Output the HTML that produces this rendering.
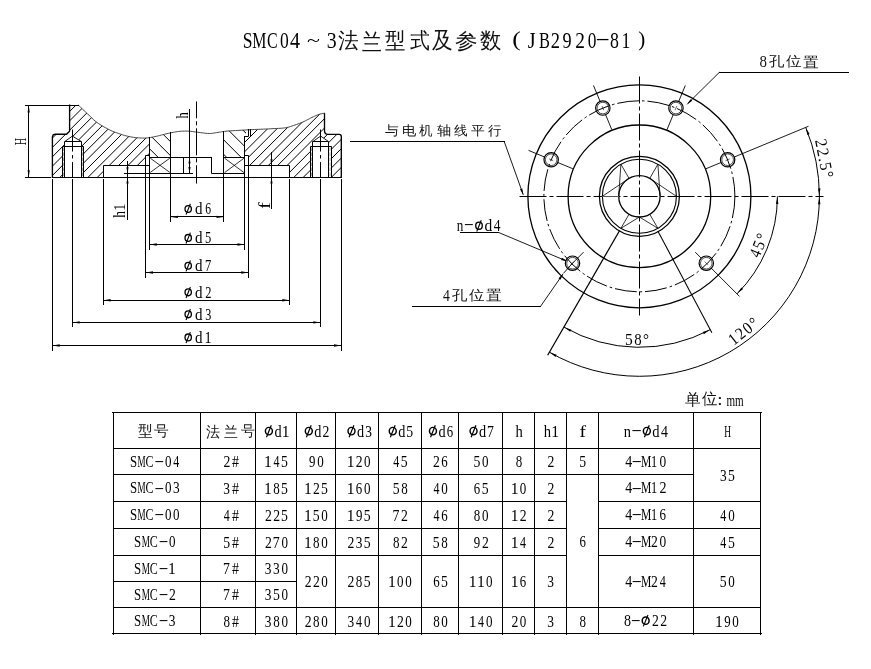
<!DOCTYPE html>
<html><head><meta charset="utf-8"><title>SMC04~3 flange</title>
<style>html,body{margin:0;padding:0;background:#fff;}svg{display:block;filter:grayscale(1);}text{font-family:"Liberation Serif",serif;}</style>
</head><body>
<svg width="871" height="669" viewBox="0 0 871 669" font-family="Liberation Serif, serif" text-anchor="middle">
<rect width="871" height="669" fill="#fff"/>
<defs>
<clipPath id="cl1" clip-rule="evenodd"><path clip-rule="evenodd" d="M52.4,177.4 52.4,136.8 55.2,134.2 66.5,134.2 69.6,131.3 69.6,105.2 78.4,105.2 79.39,106.14 80.75,107.43 82.36,108.96 84.11,110.61 85.86,112.27 87.5,113.8 89.02,115.25 90.5,116.71 92,118.18 93.54,119.63 95.16,121.04 96.9,122.4 98.82,123.73 100.9,125.06 103.06,126.36 105.22,127.58 107.3,128.71 109.2,129.7 110.91,130.54 112.5,131.23 114,131.83 115.46,132.37 116.91,132.88 118.4,133.4 119.92,133.93 121.44,134.45 122.95,134.94 124.46,135.4 125.98,135.82 127.5,136.2 129.03,136.54 130.56,136.84 132.09,137.11 133.63,137.34 135.17,137.53 136.7,137.7 138.23,137.84 139.77,137.95 141.3,138.03 142.83,138.07 144.37,138.06 145.9,138 147.43,137.88 148.97,137.69 149.5,137.61 149.5,155.4 145.7,155.4 145.7,165.4 103.4,165.4 103.4,177.4Z M62.6,177.4 62.6,146.5 64.5,146.5 64.5,141.4 72.4,136 81.3,141.4 81.3,146.5 83.5,146.5 83.5,177.4Z"/></clipPath>
<clipPath id="cl2" clip-rule="evenodd"><path clip-rule="evenodd" d="M244.8,155.6 244.8,136.5 248.5,136.5 248.5,129.8 248.64,129.79 250.4,129.7 252.28,129.61 254.24,129.53 256.22,129.44 258.21,129.36 260.15,129.28 262,129.2 263.72,129.12 265.33,129.05 266.89,128.97 268.47,128.9 270.16,128.81 272,128.7 274.08,128.6 276.36,128.5 278.73,128.39 281.09,128.26 283.35,128.06 285.4,127.8 287.23,127.45 288.9,127.03 290.47,126.56 291.99,126.06 293.48,125.53 295,125 296.55,124.46 298.08,123.91 299.6,123.33 301.1,122.74 302.56,122.13 304,121.5 305.4,120.84 306.78,120.14 308.12,119.42 309.44,118.71 310.74,118.03 312,117.4 313.24,116.82 314.46,116.25 315.66,115.72 316.81,115.23 317.93,114.78 319,114.4 320.07,114.08 321.15,113.82 322.19,113.61 323.13,113.44 323.92,113.31 324.5,113.2 324.5,130.7 326.2,133.8 328,134.4 339.3,134.4 341.3,136.4 341.3,177.4 289.6,177.4 289.6,165.4 248.5,165.4 248.5,155.6Z M310.4,177.4 310.4,146.5 312.8,146.5 312.8,141.4 320.6,136 328.5,141.4 328.5,146.5 331.2,146.5 331.2,177.4Z"/></clipPath>
<clipPath id="cl3"><path d="M149.5,137.61 150.5,137.46 152.03,137.2 153.57,136.91 155.1,136.6 156.65,136.26 158.22,135.88 159.79,135.47 161.34,135.06 162.85,134.66 164.3,134.3 165.67,133.98 166.97,133.67 168.23,133.39 169.47,133.11 170.6,132.88 170.6,157.4 149.5,157.4Z"/></clipPath>
<clipPath id="cl4"><path d="M223.8,131.46 224.33,131.38 226,131.2 228.03,131.03 230.36,130.87 232.85,130.71 235.38,130.57 237.81,130.43 240,130.3 241.93,130.18 243.69,130.07 245.35,129.98 246,129.94 246,136.5 244.8,136.5 244.8,157.4 223.8,157.4Z"/></clipPath>
</defs>
<path clip-path="url(#cl1)" d="M-47,200L63,90M-37.64,200L72.36,90M-28.28,200L81.72,90M-18.92,200L91.08,90M-9.56,200L100.44,90M-0.2,200L109.8,90M9.16,200L119.16,90M18.52,200L128.52,90M27.88,200L137.88,90M37.24,200L147.24,90M46.6,200L156.6,90M55.96,200L165.96,90M65.32,200L175.32,90M74.68,200L184.68,90M84.04,200L194.04,90M93.4,200L203.4,90M102.76,200L212.76,90M112.12,200L222.12,90M121.48,200L231.48,90M130.84,200L240.84,90M140.2,200L250.2,90M149.56,200L259.56,90M158.92,200L268.92,90" stroke="#000" stroke-width="1.0" fill="none"/>
<path clip-path="url(#cl2)" d="M140.2,200L250.2,90M149.56,200L259.56,90M158.92,200L268.92,90M168.28,200L278.28,90M177.64,200L287.64,90M187,200L297,90M196.36,200L306.36,90M205.72,200L315.72,90M215.08,200L325.08,90M224.44,200L334.44,90M233.8,200L343.8,90M243.16,200L353.16,90M252.52,200L362.52,90M261.88,200L371.88,90M271.24,200L381.24,90M280.6,200L390.6,90M289.96,200L399.96,90M299.32,200L409.32,90M308.68,200L418.68,90M318.04,200L428.04,90M327.4,200L437.4,90" stroke="#000" stroke-width="1.0" fill="none"/>
<path clip-path="url(#cl3)" d="M62.8,90L172.8,200M76.8,90L186.8,200M90.8,90L200.8,200M104.8,90L214.8,200M118.8,90L228.8,200M132.8,90L242.8,200M146.8,90L256.8,200" stroke="#000" stroke-width="1.0" fill="none"/>
<path clip-path="url(#cl4)" d="M130.3,90L240.3,200M144.8,90L254.8,200M159.3,90L269.3,200M173.8,90L283.8,200M188.3,90L298.3,200M202.8,90L312.8,200M217.3,90L327.3,200" stroke="#000" stroke-width="1.0" fill="none"/>
<polyline points="78.4,105.2 79.39,106.14 80.75,107.43 82.36,108.96 84.11,110.61 85.86,112.27 87.5,113.8 89.02,115.25 90.5,116.71 92,118.18 93.54,119.63 95.16,121.04 96.9,122.4 98.82,123.73 100.9,125.06 103.06,126.36 105.22,127.58 107.3,128.71 109.2,129.7 110.91,130.54 112.5,131.23 114,131.83 115.46,132.37 116.91,132.88 118.4,133.4 119.92,133.93 121.44,134.45 122.95,134.94 124.46,135.4 125.98,135.82 127.5,136.2 129.03,136.54 130.56,136.84 132.09,137.11 133.63,137.34 135.17,137.53 136.7,137.7 138.23,137.84 139.77,137.95 141.3,138.03 142.83,138.07 144.37,138.06 145.9,138 147.43,137.88 148.97,137.69 150.5,137.46 152.03,137.2 153.57,136.91 155.1,136.6 156.65,136.26 158.22,135.88 159.79,135.47 161.34,135.06 162.85,134.66 164.3,134.3 165.67,133.98 166.97,133.67 168.23,133.39 169.47,133.11 170.72,132.85 172,132.6 173.31,132.35 174.61,132.09 175.93,131.85 177.26,131.63 178.61,131.44 180,131.3 181.42,131.2 182.86,131.13 184.32,131.09 185.81,131.09 187.34,131.13 188.9,131.2 190.51,131.33 192.17,131.51 193.87,131.72 195.58,131.96 197.3,132.19 199,132.4 200.71,132.61 202.44,132.86 204.18,133.09 205.9,133.3 207.58,133.45 209.2,133.5 210.76,133.45 212.27,133.3 213.74,133.09 215.18,132.86 216.6,132.61 218,132.4 219.31,132.2 220.5,132 221.68,131.79 222.92,131.58 224.33,131.38 226,131.2 228.03,131.03 230.36,130.87 232.85,130.71 235.38,130.57 237.81,130.43 240,130.3 241.93,130.18 243.69,130.07 245.35,129.98 246.98,129.88 248.64,129.79 250.4,129.7 252.28,129.61 254.24,129.53 256.22,129.44 258.21,129.36 260.15,129.28 262,129.2 263.72,129.12 265.33,129.05 266.89,128.97 268.47,128.9 270.16,128.81 272,128.7 274.08,128.6 276.36,128.5 278.73,128.39 281.09,128.26 283.35,128.06 285.4,127.8 287.23,127.45 288.9,127.03 290.47,126.56 291.99,126.06 293.48,125.53 295,125 296.55,124.46 298.08,123.91 299.6,123.33 301.1,122.74 302.56,122.13 304,121.5 305.4,120.84 306.78,120.14 308.12,119.42 309.44,118.71 310.74,118.03 312,117.4 313.24,116.82 314.46,116.25 315.66,115.72 316.81,115.23 317.93,114.78 319,114.4 320.07,114.08 321.15,113.82 322.19,113.61 323.13,113.44 323.92,113.31 324.5,113.2" fill="none" stroke="#333" stroke-width="0.9" stroke-linecap="square"/>
<polyline points="52.4,177.4 52.4,136.8 53.2,134.9 55.2,134.2 66.5,134.2 69.6,131.3 69.6,105.2" fill="none" stroke="#000" stroke-width="1.35" stroke-linecap="square"/>
<line x1="25.5" y1="105.5" x2="78.5" y2="105.5" stroke="#000" stroke-width="1.0" stroke-linecap="square"/>
<line x1="25.5" y1="177.5" x2="50.5" y2="177.5" stroke="#000" stroke-width="1.0" stroke-linecap="square"/>
<line x1="52.5" y1="177.5" x2="341.5" y2="177.5" stroke="#000" stroke-width="1.0" stroke-linecap="square"/>
<polyline points="62.5,177.5 62.5,146.5 83.5,146.5 83.5,177.5" fill="none" stroke="#000" stroke-width="1.0" stroke-linecap="square"/>
<polyline points="64.5,177.5 64.5,141.5 81.5,141.5 81.5,177.5" fill="none" stroke="#000" stroke-width="1.0" stroke-linecap="square"/>
<polyline points="65.4,141.1 72.4,136.1 80.6,141.1" fill="none" stroke="#000" stroke-width="0.9" stroke-linecap="square"/>
<line x1="63.5" y1="147.5" x2="63.5" y2="177.4" stroke="#777" stroke-width="0.6" stroke-dasharray="3.5 1.5"/>
<line x1="82.5" y1="147.5" x2="82.5" y2="177.4" stroke="#777" stroke-width="0.6" stroke-dasharray="3.5 1.5"/>
<line x1="72.5" y1="129.5" x2="72.5" y2="177.5" stroke="#000" stroke-width="1.0" stroke-dasharray="22 3.6 3.4 3.6"/>
<polyline points="310.5,177.5 310.5,146.5 331.5,146.5 331.5,177.5" fill="none" stroke="#000" stroke-width="1.0" stroke-linecap="square"/>
<polyline points="312.5,177.5 312.5,141.5 328.5,141.5 328.5,177.5" fill="none" stroke="#000" stroke-width="1.0" stroke-linecap="square"/>
<polyline points="313.5,141.1 320.6,136.1 327.9,141.1" fill="none" stroke="#000" stroke-width="0.9" stroke-linecap="square"/>
<line x1="311.5" y1="147.5" x2="311.5" y2="177.4" stroke="#777" stroke-width="0.6" stroke-dasharray="3.5 1.5"/>
<line x1="330" y1="147.5" x2="330" y2="177.4" stroke="#777" stroke-width="0.6" stroke-dasharray="3.5 1.5"/>
<line x1="320.5" y1="129.5" x2="320.5" y2="177.5" stroke="#000" stroke-width="1.0" stroke-dasharray="22 3.6 3.4 3.6"/>
<line x1="149.5" y1="137.5" x2="149.5" y2="177.5" stroke="#000" stroke-width="1.0" stroke-linecap="square"/>
<polyline points="149.5,155.5 145.5,155.5 145.5,165.5" fill="none" stroke="#000" stroke-width="1.0" stroke-linecap="square"/>
<polyline points="103.5,177.5 103.5,165.5 149.5,165.5" fill="none" stroke="#000" stroke-width="1.0" stroke-linecap="square"/>
<line x1="145.5" y1="165.5" x2="145.5" y2="177.5" stroke="#000" stroke-width="1.0" stroke-linecap="square"/>
<line x1="170.5" y1="132.5" x2="170.5" y2="177.5" stroke="#000" stroke-width="1.0" stroke-linecap="square"/>
<line x1="149.5" y1="157.5" x2="211.5" y2="157.5" stroke="#000" stroke-width="1.0" stroke-linecap="square"/>
<line x1="223.5" y1="157.5" x2="244.5" y2="157.5" stroke="#000" stroke-width="1.0" stroke-linecap="square"/>
<line x1="183.5" y1="157.5" x2="183.5" y2="173.5" stroke="#000" stroke-width="1.0" stroke-linecap="square"/>
<polyline points="211.5,157.5 211.5,173.5 244.5,173.5" fill="none" stroke="#000" stroke-width="1.0" stroke-linecap="square"/>
<line x1="124.5" y1="173.5" x2="149.5" y2="173.5" stroke="#000" stroke-width="1.0" stroke-linecap="square"/>
<line x1="149.5" y1="173.5" x2="192.5" y2="173.5" stroke="#000" stroke-width="1.0" stroke-linecap="square"/>
<line x1="223.5" y1="131.5" x2="223.5" y2="177.5" stroke="#000" stroke-width="1.0" stroke-linecap="square"/>
<line x1="244.5" y1="136.5" x2="244.5" y2="177.5" stroke="#000" stroke-width="1.0" stroke-linecap="square"/>
<polyline points="244.5,136.5 248.5,136.5 248.5,129.5" fill="none" stroke="#000" stroke-width="1.0" stroke-linecap="square"/>
<line x1="250.5" y1="129.5" x2="250.5" y2="135.5" stroke="#000" stroke-width="1.0" stroke-linecap="square"/>
<polyline points="244.5,155.5 248.5,155.5 248.5,165.5" fill="none" stroke="#000" stroke-width="1.0" stroke-linecap="square"/>
<line x1="248.5" y1="165.5" x2="248.5" y2="177.5" stroke="#000" stroke-width="1.0" stroke-linecap="square"/>
<polyline points="244.5,165.5 289.5,165.5 289.5,177.5" fill="none" stroke="#000" stroke-width="1.0" stroke-linecap="square"/>
<path d="M324.5,113.2 V130.7 Q324.6,134.4 328,134.4 H339.3 Q341.3,134.4 341.3,136.6 V176.2 Q341.3,177.4 340.2,177.4" fill="none" stroke="#000" stroke-width="1.35"/>
<line x1="150.3" y1="158.2" x2="169.8" y2="172.4" stroke="#000" stroke-width="0.8"/>
<line x1="150.3" y1="172.4" x2="169.8" y2="158.2" stroke="#000" stroke-width="0.8"/>
<line x1="224.6" y1="158.2" x2="244" y2="172.6" stroke="#000" stroke-width="0.8"/>
<line x1="224.6" y1="172.6" x2="244" y2="158.2" stroke="#000" stroke-width="0.8"/>
<line x1="196.5" y1="101.5" x2="196.5" y2="183.5" stroke="#000" stroke-width="1.0" stroke-dasharray="27 3 4 3" stroke-dashoffset="10.2"/>
<line x1="189.5" y1="109.5" x2="189.5" y2="173.5" stroke="#000" stroke-width="1.0" stroke-linecap="square"/>
<polygon points="189.5,157.6 190.6,163.6 188.4,163.6" fill="#000"/>
<polygon points="189.5,173 188.4,167 190.6,167" fill="#000"/>
<line x1="127.5" y1="161.5" x2="127.5" y2="219.5" stroke="#000" stroke-width="1.0" stroke-linecap="square"/>
<polygon points="127.5,173.2 126.4,167.2 128.6,167.2" fill="#000"/>
<polygon points="127.5,177.6 128.6,183.6 126.4,183.6" fill="#000"/>
<line x1="271.5" y1="152.5" x2="271.5" y2="208.5" stroke="#000" stroke-width="1.0" stroke-linecap="square"/>
<polygon points="271.5,165.3 270.4,159.3 272.6,159.3" fill="#000"/>
<polygon points="271.5,177.6 272.6,183.6 270.4,183.6" fill="#000"/>
<line x1="28.5" y1="105.5" x2="28.5" y2="177.5" stroke="#000" stroke-width="1.0" stroke-linecap="square"/>
<polygon points="28.7,105.5 29.8,112.5 27.6,112.5" fill="#000"/>
<polygon points="28.7,177.3 27.6,170.3 29.8,170.3" fill="#000"/>
<line x1="170.5" y1="177.5" x2="170.5" y2="221.5" stroke="#000" stroke-width="1.0" stroke-linecap="square"/>
<line x1="223.5" y1="177.5" x2="223.5" y2="221.5" stroke="#000" stroke-width="1.0" stroke-linecap="square"/>
<line x1="170.5" y1="216.5" x2="223.5" y2="216.5" stroke="#000" stroke-width="1.0" stroke-linecap="square"/>
<polygon points="170.9,216.9 177.9,215.7 177.9,218.1" fill="#000"/>
<polygon points="223.5,216.9 216.5,218.1 216.5,215.7" fill="#000"/>
<line x1="149.5" y1="177.5" x2="149.5" y2="249.5" stroke="#000" stroke-width="1.0" stroke-linecap="square"/>
<line x1="244.5" y1="177.5" x2="244.5" y2="249.5" stroke="#000" stroke-width="1.0" stroke-linecap="square"/>
<line x1="149.5" y1="244.5" x2="244.5" y2="244.5" stroke="#000" stroke-width="1.0" stroke-linecap="square"/>
<polygon points="149.8,244.5 156.8,243.3 156.8,245.7" fill="#000"/>
<polygon points="244.5,244.5 237.5,245.7 237.5,243.3" fill="#000"/>
<line x1="145.5" y1="177.5" x2="145.5" y2="277.5" stroke="#000" stroke-width="1.0" stroke-linecap="square"/>
<line x1="248.5" y1="177.5" x2="248.5" y2="277.5" stroke="#000" stroke-width="1.0" stroke-linecap="square"/>
<line x1="145.5" y1="272.5" x2="248.5" y2="272.5" stroke="#000" stroke-width="1.0" stroke-linecap="square"/>
<polygon points="146,272.5 153,271.3 153,273.7" fill="#000"/>
<polygon points="248.2,272.5 241.2,273.7 241.2,271.3" fill="#000"/>
<line x1="103.5" y1="179.5" x2="103.5" y2="304.5" stroke="#000" stroke-width="1.0" stroke-linecap="square"/>
<line x1="289.5" y1="179.5" x2="289.5" y2="304.5" stroke="#000" stroke-width="1.0" stroke-linecap="square"/>
<line x1="103.5" y1="300.5" x2="289.5" y2="300.5" stroke="#000" stroke-width="1.0" stroke-linecap="square"/>
<polygon points="103.7,300.3 110.7,299.1 110.7,301.5" fill="#000"/>
<polygon points="289.3,300.3 282.3,301.5 282.3,299.1" fill="#000"/>
<line x1="72.5" y1="179.5" x2="72.5" y2="326.5" stroke="#000" stroke-width="1.0" stroke-linecap="square"/>
<line x1="320.5" y1="179.5" x2="320.5" y2="326.5" stroke="#000" stroke-width="1.0" stroke-linecap="square"/>
<line x1="72.5" y1="322.5" x2="320.5" y2="322.5" stroke="#000" stroke-width="1.0" stroke-linecap="square"/>
<polygon points="72.7,322.4 79.7,321.2 79.7,323.6" fill="#000"/>
<polygon points="320.3,322.4 313.3,323.6 313.3,321.2" fill="#000"/>
<line x1="52.5" y1="179.5" x2="52.5" y2="350.5" stroke="#000" stroke-width="1.0" stroke-linecap="square"/>
<line x1="341.5" y1="179.5" x2="341.5" y2="350.5" stroke="#000" stroke-width="1.0" stroke-linecap="square"/>
<line x1="52.5" y1="345.5" x2="341.5" y2="345.5" stroke="#000" stroke-width="1.0" stroke-linecap="square"/>
<polygon points="52.7,345.5 59.7,344.3 59.7,346.7" fill="#000"/>
<polygon points="341,345.5 334,346.7 334,344.3" fill="#000"/>
<line x1="350.5" y1="141.5" x2="504.5" y2="141.5" stroke="#000" stroke-width="1.0" stroke-linecap="square"/>
<line x1="504.1" y1="141.2" x2="523.2" y2="194.6" stroke="#000" stroke-width="0.9"/>
<polygon points="523.5,195.5 520.01,189.31 522.27,188.5" fill="#000"/>
<circle cx="639.4" cy="196.3" r="111.5" fill="none" stroke="#000" stroke-width="1.3"/>
<circle cx="639.4" cy="196.3" r="95.5" fill="none" stroke="#000" stroke-width="1.0" stroke-dasharray="22 3 2.5 3"/>
<circle cx="639.4" cy="196.3" r="71.3" fill="none" stroke="#000" stroke-width="1.3"/>
<circle cx="639.4" cy="196.3" r="40" fill="none" stroke="#000" stroke-width="1.25"/>
<circle cx="639.4" cy="196.3" r="37" fill="none" stroke="#000" stroke-width="1.1"/>
<circle cx="639.4" cy="196.3" r="20.7" fill="none" stroke="#000" stroke-width="1.3"/>
<line x1="519.5" y1="196.5" x2="823.5" y2="196.5" stroke="#000" stroke-width="1.0" stroke-dasharray="27 3 4 3"/>
<line x1="639.5" y1="76.5" x2="639.5" y2="315.5" stroke="#000" stroke-width="1.0" stroke-dasharray="27 3 4 3"/>
<line x1="657.9" y1="164.26" x2="649.75" y2="178.37" stroke="#000" stroke-width="0.8"/>
<line x1="657.9" y1="164.26" x2="660.1" y2="196.3" stroke="#000" stroke-width="0.8"/>
<line x1="676.4" y1="196.3" x2="649.75" y2="178.37" stroke="#000" stroke-width="0.8"/>
<line x1="657.9" y1="228.34" x2="649.75" y2="214.23" stroke="#000" stroke-width="0.8"/>
<line x1="657.9" y1="228.34" x2="639.4" y2="217" stroke="#000" stroke-width="0.8"/>
<line x1="620.9" y1="164.26" x2="629.05" y2="178.37" stroke="#000" stroke-width="0.8"/>
<line x1="620.9" y1="164.26" x2="618.7" y2="196.3" stroke="#000" stroke-width="0.8"/>
<line x1="602.4" y1="196.3" x2="629.05" y2="178.37" stroke="#000" stroke-width="0.8"/>
<line x1="620.9" y1="228.34" x2="629.05" y2="214.23" stroke="#000" stroke-width="0.8"/>
<line x1="620.9" y1="228.34" x2="639.4" y2="217" stroke="#000" stroke-width="0.8"/>
<line x1="602.5" y1="196.5" x2="618.5" y2="196.5" stroke="#555" stroke-width="1.0" stroke-linecap="square"/>
<circle cx="727.63" cy="159.75" r="7.2" fill="none" stroke="#000" stroke-width="1.2"/>
<circle cx="727.63" cy="159.75" r="5.8" fill="none" stroke="#000" stroke-width="0.7"/>
<line x1="725.6" y1="160.6" x2="729.66" y2="158.91" stroke="#000" stroke-width="0.6"/>
<circle cx="675.95" cy="108.07" r="7.2" fill="none" stroke="#000" stroke-width="1.2"/>
<circle cx="675.95" cy="108.07" r="5.8" fill="none" stroke="#000" stroke-width="0.7"/>
<line x1="675.1" y1="110.1" x2="676.79" y2="106.04" stroke="#000" stroke-width="0.6"/>
<circle cx="602.85" cy="108.07" r="7.2" fill="none" stroke="#000" stroke-width="1.2"/>
<circle cx="602.85" cy="108.07" r="5.8" fill="none" stroke="#000" stroke-width="0.7"/>
<line x1="603.7" y1="110.1" x2="602.01" y2="106.04" stroke="#000" stroke-width="0.6"/>
<circle cx="551.17" cy="159.75" r="7.2" fill="none" stroke="#000" stroke-width="1.2"/>
<circle cx="551.17" cy="159.75" r="5.8" fill="none" stroke="#000" stroke-width="0.7"/>
<line x1="553.2" y1="160.6" x2="549.14" y2="158.91" stroke="#000" stroke-width="0.6"/>
<circle cx="706.29" cy="263.19" r="7.2" fill="none" stroke="#000" stroke-width="1.2"/>
<circle cx="706.29" cy="263.19" r="5.8" fill="none" stroke="#000" stroke-width="0.7"/>
<line x1="704.74" y1="261.64" x2="707.85" y2="264.75" stroke="#000" stroke-width="0.6"/>
<circle cx="572.51" cy="263.19" r="7.2" fill="none" stroke="#000" stroke-width="1.2"/>
<circle cx="572.51" cy="263.19" r="5.8" fill="none" stroke="#000" stroke-width="0.7"/>
<line x1="574.06" y1="261.64" x2="570.95" y2="264.75" stroke="#000" stroke-width="0.6"/>
<line x1="666.95" y1="129.78" x2="673.15" y2="114.81" stroke="#000" stroke-width="0.9"/>
<line x1="678.74" y1="101.33" x2="685.32" y2="85.43" stroke="#000" stroke-width="0.9"/>
<line x1="611.85" y1="129.78" x2="605.65" y2="114.81" stroke="#000" stroke-width="0.9"/>
<line x1="600.06" y1="101.33" x2="593.48" y2="85.43" stroke="#000" stroke-width="0.9"/>
<line x1="572.88" y1="168.75" x2="557.91" y2="162.55" stroke="#000" stroke-width="0.9"/>
<line x1="544.43" y1="156.96" x2="528.53" y2="150.38" stroke="#000" stroke-width="0.9"/>
<line x1="705.92" y1="168.75" x2="720.89" y2="162.55" stroke="#000" stroke-width="0.9"/>
<line x1="734.37" y1="156.96" x2="808.47" y2="126.27" stroke="#000" stroke-width="0.9"/>
<line x1="695.26" y1="252.16" x2="701.2" y2="258.1" stroke="#000" stroke-width="0.9"/>
<line x1="711.38" y1="268.28" x2="739.53" y2="296.43" stroke="#000" stroke-width="0.9"/>
<line x1="583.54" y1="252.16" x2="572.51" y2="263.19" stroke="#000" stroke-width="0.9"/>
<line x1="572.51" y1="263.19" x2="563.5" y2="273.3" stroke="#000" stroke-width="0.9"/>
<line x1="657.94" y1="231.18" x2="711.89" y2="332.63" stroke="#000" stroke-width="1.05"/>
<line x1="619.65" y1="230.51" x2="547.65" y2="355.22" stroke="#000" stroke-width="1.25"/>
<path d="M805.7,127.42 A180,180 0 0 1 819.4,196.3" fill="none" stroke="#000" stroke-width="1.0"/>
<path d="M819.4,196.3 A180,180 0 0 1 549.4,352.18" fill="none" stroke="#000" stroke-width="1.0"/>
<path d="M777.4,196.3 A138,138 0 0 1 736.98,293.88" fill="none" stroke="#000" stroke-width="1.0"/>
<path d="M710.29,329.63 A151,151 0 0 1 563.9,327.07" fill="none" stroke="#000" stroke-width="1.0"/>
<polygon points="805.94,128 809.59,134.09 807.35,134.96" fill="#000"/>
<polygon points="819.4,195.36 818.03,188.39 820.42,188.33" fill="#000"/>
<polygon points="819.4,197.24 820.42,204.27 818.03,204.21" fill="#000"/>
<polygon points="549.94,352.5 556.66,354.81 555.51,356.91" fill="#000"/>
<polygon points="777.4,197.02 778.38,204.06 775.98,203.98" fill="#000"/>
<polygon points="737.49,293.37 741.41,287.45 743.16,289.09" fill="#000"/>
<polygon points="709.59,329.99 703.85,334.18 702.79,332.03" fill="#000"/>
<polygon points="564.59,327.46 571.32,329.73 570.17,331.85" fill="#000"/>
<line x1="719.5" y1="72.5" x2="848.5" y2="72.5" stroke="#000" stroke-width="1.0" stroke-linecap="square"/>
<line x1="719.4" y1="72.3" x2="688" y2="103.3" stroke="#000" stroke-width="0.9"/>
<polygon points="686.4,104.9 690.54,99.13 692.22,100.83" fill="#000"/>
<line x1="460.5" y1="232.5" x2="498.5" y2="232.5" stroke="#000" stroke-width="1.0" stroke-linecap="square"/>
<line x1="498.2" y1="232.3" x2="566" y2="260.8" stroke="#000" stroke-width="0.9"/>
<polygon points="568,261.6 561.08,260 562.01,257.78" fill="#000"/>
<line x1="412.5" y1="306.5" x2="540.5" y2="306.5" stroke="#000" stroke-width="1.0" stroke-linecap="square"/>
<line x1="540.6" y1="306.3" x2="563" y2="274" stroke="#000" stroke-width="0.9"/>
<polygon points="563.5,273.3 560.5,279.74 558.52,278.37" fill="#000"/>
<text transform="translate(247.66,48) scale(0.76,1)" font-size="23.08" fill="#000">S</text>
<text transform="translate(259.28,48) scale(0.69,1)" font-size="23.08" fill="#000">M</text>
<text transform="translate(272.23,48) scale(0.69,1)" font-size="23.08" fill="#000">C</text>
<text transform="translate(284.5,48) scale(0.76,1)" font-size="23.08" fill="#000">0</text>
<text transform="translate(295.1,48) scale(0.87,1)" font-size="23.08" fill="#000">4</text>
<text transform="translate(331.75,48) scale(0.86,1)" font-size="23.08" fill="#000">3</text>
<text transform="translate(531.65,48) scale(0.88,1)" font-size="23.08" fill="#000">J</text>
<text transform="translate(544.58,48) scale(0.71,1)" font-size="23.08" fill="#000">B</text>
<text transform="translate(555.48,48) scale(0.8,1)" font-size="23.08" fill="#000">2</text>
<text transform="translate(567.09,48) scale(0.79,1)" font-size="23.08" fill="#000">9</text>
<text transform="translate(580.1,48) scale(0.84,1)" font-size="23.08" fill="#000">2</text>
<text transform="translate(592.05,48) scale(0.75,1)" font-size="23.08" fill="#000">0</text>
<text transform="translate(614.45,48) scale(0.77,1)" font-size="23.08" fill="#000">8</text>
<text transform="translate(625.93,48) scale(0.77,1)" font-size="23.08" fill="#000">1</text>
<text transform="translate(313.45,46.35) scale(1.45,1)" font-size="16.47" fill="#000">~</text>
<text transform="translate(348.31,48.46) scale(0.94,1)" font-size="22.15" fill="#111" font-weight="300">法</text>
<text transform="translate(372.55,49.51) scale(0.86,1)" font-size="23.15" fill="#111" font-weight="300">兰</text>
<text transform="translate(395.81,48.44) scale(0.93,1)" font-size="22.39" fill="#111" font-weight="300">型</text>
<text transform="translate(420.1,48.27) scale(0.9,1)" font-size="21.91" fill="#111" font-weight="300">式</text>
<text transform="translate(442.52,48.35) scale(0.9,1)" font-size="23.15" fill="#111" font-weight="300">及</text>
<text transform="translate(466.69,47.54) scale(1.08,1)" font-size="21.02" fill="#111" font-weight="300">参</text>
<text transform="translate(490.37,47.8) scale(0.97,1)" font-size="22.15" fill="#111" font-weight="300">数</text>
<text transform="translate(516.47,46.21) scale(1.25,1)" font-size="20.44" fill="#000">(</text>
<text transform="translate(602.75,46.46) scale(0.87,1)" font-size="26" fill="#000">–</text>
<text transform="translate(641.86,45.83) scale(0.97,1)" font-size="21.78" fill="#000">)</text>
<ellipse cx="188.2" cy="209.01" rx="3.18" ry="3.41" fill="none" stroke="#000" stroke-width="1.32"/>
<line x1="190.38" y1="203.74" x2="186.02" y2="214.65" stroke="#000" stroke-width="1.09"/>
<text transform="translate(198.77,214.3) scale(0.94,1)" font-size="16" fill="#000">d</text>
<text transform="translate(208.24,214.3) scale(0.73,1)" font-size="16" fill="#000">6</text>
<ellipse cx="188.2" cy="237.91" rx="3.18" ry="3.41" fill="none" stroke="#000" stroke-width="1.32"/>
<line x1="190.38" y1="232.64" x2="186.02" y2="243.55" stroke="#000" stroke-width="1.09"/>
<text transform="translate(198.77,243.2) scale(0.94,1)" font-size="16" fill="#000">d</text>
<text transform="translate(208.18,243.2) scale(0.78,1)" font-size="16" fill="#000">5</text>
<ellipse cx="188.2" cy="265.71" rx="3.18" ry="3.41" fill="none" stroke="#000" stroke-width="1.32"/>
<line x1="190.38" y1="260.44" x2="186.02" y2="271.35" stroke="#000" stroke-width="1.09"/>
<text transform="translate(198.77,271) scale(0.94,1)" font-size="16" fill="#000">d</text>
<text transform="translate(208.05,271) scale(0.78,1)" font-size="16" fill="#000">7</text>
<ellipse cx="188.2" cy="292.31" rx="3.18" ry="3.41" fill="none" stroke="#000" stroke-width="1.32"/>
<line x1="190.38" y1="287.04" x2="186.02" y2="297.95" stroke="#000" stroke-width="1.09"/>
<text transform="translate(198.77,297.6) scale(0.94,1)" font-size="16" fill="#000">d</text>
<text transform="translate(208.43,297.6) scale(0.78,1)" font-size="16" fill="#000">2</text>
<ellipse cx="188.2" cy="314.31" rx="3.18" ry="3.41" fill="none" stroke="#000" stroke-width="1.32"/>
<line x1="190.38" y1="309.04" x2="186.02" y2="319.95" stroke="#000" stroke-width="1.09"/>
<text transform="translate(198.77,319.6) scale(0.94,1)" font-size="16" fill="#000">d</text>
<text transform="translate(208.24,319.6) scale(0.76,1)" font-size="16" fill="#000">3</text>
<ellipse cx="188.2" cy="337.41" rx="3.18" ry="3.41" fill="none" stroke="#000" stroke-width="1.32"/>
<line x1="190.38" y1="332.14" x2="186.02" y2="343.05" stroke="#000" stroke-width="1.09"/>
<text transform="translate(198.77,342.7) scale(0.94,1)" font-size="16" fill="#000">d</text>
<text transform="translate(208.09,342.7) scale(0.89,1)" font-size="16" fill="#000">1</text>
<g transform="translate(20.8,141.6) rotate(-90)">
<text transform="translate(0,5.53) scale(0.59,1)" font-size="17" fill="#000">H</text>
</g>
<g transform="translate(182.6,115.4) rotate(-90)">
<text transform="translate(0,5.2) scale(0.78,1)" font-size="16" fill="#000">h</text>
</g>
<g transform="translate(120,211) rotate(-90)">
<text transform="translate(-3.3,5.2) scale(0.85,1)" font-size="16" fill="#000">h</text>
<text transform="translate(3.84,5.2) scale(0.89,1)" font-size="16" fill="#000">1</text>
</g>
<g transform="translate(264.4,205.3) rotate(-90)">
<text transform="translate(-0.29,5.2) scale(1.21,1)" font-size="16" fill="#000">f</text>
</g>
<text transform="translate(392.34,134.82) scale(1.06,1)" font-size="13.4" fill="#111" font-weight="300">与</text>
<text transform="translate(408.95,134.96) scale(1.1,1)" font-size="13.4" fill="#111" font-weight="300">电</text>
<text transform="translate(426.57,134.96) scale(1.04,1)" font-size="13.4" fill="#111" font-weight="300">机</text>
<text transform="translate(444.07,134.82) scale(1.1,1)" font-size="13.4" fill="#111" font-weight="300">轴</text>
<text transform="translate(460.88,134.89) scale(1.05,1)" font-size="13.4" fill="#111" font-weight="300">线</text>
<text transform="translate(477.93,134.56) scale(1.06,1)" font-size="13.4" fill="#111" font-weight="300">平</text>
<text transform="translate(495.04,134.62) scale(1.04,1)" font-size="13.4" fill="#111" font-weight="300">行</text>
<text transform="translate(763.35,67.12) scale(0.88,1)" font-size="17" fill="#111">8</text>
<text transform="translate(776.34,66.12) scale(1.1,1)" font-size="13.5" fill="#111" font-weight="300">孔</text>
<text transform="translate(793.53,66.12) scale(1.11,1)" font-size="13.5" fill="#111" font-weight="300">位</text>
<text transform="translate(810.35,66.53) scale(1.13,1)" font-size="13.5" fill="#111" font-weight="300">置</text>
<text transform="translate(446.35,300.72) scale(0.81,1)" font-size="17" fill="#111">4</text>
<text transform="translate(459.27,299.72) scale(1.1,1)" font-size="13.5" fill="#111" font-weight="300">孔</text>
<text transform="translate(476.4,299.72) scale(1.11,1)" font-size="13.5" fill="#111" font-weight="300">位</text>
<text transform="translate(493.15,300.13) scale(1.13,1)" font-size="13.5" fill="#111" font-weight="300">置</text>
<text transform="translate(459.95,231.16) scale(0.8,1)" font-size="16.5" fill="#000">n</text>
<text transform="translate(468.92,230.2) scale(0.77,1)" font-size="20" fill="#000">–</text>
<ellipse cx="479" cy="225.71" rx="3.28" ry="3.52" fill="none" stroke="#000" stroke-width="1.36"/>
<line x1="481.25" y1="220.27" x2="476.75" y2="231.52" stroke="#000" stroke-width="1.12"/>
<text transform="translate(488.34,231.16) scale(0.94,1)" font-size="16.5" fill="#000">d</text>
<text transform="translate(497.1,231.16) scale(0.82,1)" font-size="16.5" fill="#000">4</text>
<text transform="translate(628.75,345.02) scale(0.91,1)" font-size="17" fill="#000">5</text>
<text transform="translate(637.9,345.02) scale(0.87,1)" font-size="17" fill="#000">8</text>
<text transform="translate(646.05,345.02) scale(0.88,1)" font-size="17" fill="#000">°</text>
<g transform="translate(824.2,158.3) rotate(79)">
<text transform="translate(-15.7,5.53) scale(0.91,1)" font-size="17" fill="#000">2</text>
<text transform="translate(-6.3,5.53) scale(0.91,1)" font-size="17" fill="#000">2</text>
<text transform="translate(0.85,5.53) scale(0.98,1)" font-size="17" fill="#000">.</text>
<text transform="translate(7.99,5.53) scale(0.91,1)" font-size="17" fill="#000">5</text>
<text transform="translate(16.7,5.53) scale(0.88,1)" font-size="17" fill="#000">°</text>
</g>
<g transform="translate(758.6,245.6) rotate(-67.5)">
<text transform="translate(-8.35,5.53) scale(0.79,1)" font-size="17" fill="#000">4</text>
<text transform="translate(0.7,5.53) scale(0.91,1)" font-size="17" fill="#000">5</text>
<text transform="translate(9.2,5.53) scale(0.88,1)" font-size="17" fill="#000">°</text>
</g>
<g transform="translate(743.6,331) rotate(-38)">
<text transform="translate(-13.16,5.53) scale(0.84,1)" font-size="17" fill="#000">1</text>
<text transform="translate(-4.19,5.53) scale(0.91,1)" font-size="17" fill="#000">2</text>
<text transform="translate(4.85,5.53) scale(0.87,1)" font-size="17" fill="#000">0</text>
<text transform="translate(13.2,5.53) scale(0.88,1)" font-size="17" fill="#000">°</text>
</g>
<text transform="translate(693.06,404.6) scale(0.98,1)" font-size="16" fill="#111" font-weight="300">单</text>
<text transform="translate(710.01,404.36) scale(0.96,1)" font-size="16" fill="#111" font-weight="300">位</text>
<text transform="translate(719.95,404.72) scale(1.13,1)" font-size="17" fill="#000">:</text>
<text transform="translate(730.9,405.52) scale(0.63,1)" font-size="17.6" fill="#000">m</text>
<text transform="translate(739.4,405.52) scale(0.63,1)" font-size="17.6" fill="#000">m</text>
<line x1="113.5" y1="412.5" x2="113.5" y2="634.5" stroke="#000" stroke-width="1.0" stroke-linecap="square"/>
<line x1="200.5" y1="412.5" x2="200.5" y2="634.5" stroke="#000" stroke-width="1.0" stroke-linecap="square"/>
<line x1="255.5" y1="412.5" x2="255.5" y2="634.5" stroke="#000" stroke-width="1.0" stroke-linecap="square"/>
<line x1="296.5" y1="412.5" x2="296.5" y2="634.5" stroke="#000" stroke-width="1.0" stroke-linecap="square"/>
<line x1="335.5" y1="412.5" x2="335.5" y2="634.5" stroke="#000" stroke-width="1.0" stroke-linecap="square"/>
<line x1="378.5" y1="412.5" x2="378.5" y2="634.5" stroke="#000" stroke-width="1.0" stroke-linecap="square"/>
<line x1="421.5" y1="412.5" x2="421.5" y2="634.5" stroke="#000" stroke-width="1.0" stroke-linecap="square"/>
<line x1="458.5" y1="412.5" x2="458.5" y2="634.5" stroke="#000" stroke-width="1.0" stroke-linecap="square"/>
<line x1="502.5" y1="412.5" x2="502.5" y2="634.5" stroke="#000" stroke-width="1.0" stroke-linecap="square"/>
<line x1="534.5" y1="412.5" x2="534.5" y2="634.5" stroke="#000" stroke-width="1.0" stroke-linecap="square"/>
<line x1="566.5" y1="412.5" x2="566.5" y2="634.5" stroke="#000" stroke-width="1.0" stroke-linecap="square"/>
<line x1="598.5" y1="412.5" x2="598.5" y2="634.5" stroke="#000" stroke-width="1.0" stroke-linecap="square"/>
<line x1="693.5" y1="412.5" x2="693.5" y2="634.5" stroke="#000" stroke-width="1.0" stroke-linecap="square"/>
<line x1="760.5" y1="412.5" x2="760.5" y2="634.5" stroke="#000" stroke-width="1.0" stroke-linecap="square"/>
<line x1="112.5" y1="412.5" x2="761.5" y2="412.5" stroke="#000" stroke-width="1.0" stroke-linecap="square"/>
<line x1="112.5" y1="633.5" x2="761.5" y2="633.5" stroke="#000" stroke-width="1.0" stroke-linecap="square"/>
<line x1="113.5" y1="448.5" x2="760.5" y2="448.5" stroke="#000" stroke-width="1.0" stroke-linecap="square"/>
<line x1="113.5" y1="474.5" x2="693.5" y2="474.5" stroke="#000" stroke-width="1.0" stroke-linecap="square"/>
<line x1="113.5" y1="501.5" x2="566.5" y2="501.5" stroke="#000" stroke-width="1.0" stroke-linecap="square"/>
<line x1="598.5" y1="501.5" x2="760.5" y2="501.5" stroke="#000" stroke-width="1.0" stroke-linecap="square"/>
<line x1="113.5" y1="528.5" x2="566.5" y2="528.5" stroke="#000" stroke-width="1.0" stroke-linecap="square"/>
<line x1="598.5" y1="528.5" x2="760.5" y2="528.5" stroke="#000" stroke-width="1.0" stroke-linecap="square"/>
<line x1="113.5" y1="555.5" x2="566.5" y2="555.5" stroke="#000" stroke-width="1.0" stroke-linecap="square"/>
<line x1="598.5" y1="555.5" x2="760.5" y2="555.5" stroke="#000" stroke-width="1.0" stroke-linecap="square"/>
<line x1="113.5" y1="581.5" x2="296.5" y2="581.5" stroke="#000" stroke-width="1.0" stroke-linecap="square"/>
<line x1="113.5" y1="607.5" x2="760.5" y2="607.5" stroke="#000" stroke-width="1.0" stroke-linecap="square"/>
<text transform="translate(145.44,436.48) scale(0.98,1)" font-size="14.8" fill="#111" font-weight="300">型</text>
<text transform="translate(161.34,436.11) scale(0.98,1)" font-size="14.8" fill="#111" font-weight="300">号</text>
<text transform="translate(213.24,436.55) scale(0.93,1)" font-size="14.8" fill="#111" font-weight="300">法</text>
<text transform="translate(230.54,437) scale(0.93,1)" font-size="14.8" fill="#111" font-weight="300">兰</text>
<text transform="translate(247.84,436.11) scale(0.93,1)" font-size="14.8" fill="#111" font-weight="300">号</text>
<ellipse cx="268.9" cy="431.1" rx="3.5" ry="3.75" fill="none" stroke="#000" stroke-width="1.45"/>
<line x1="271.3" y1="425.3" x2="266.5" y2="437.3" stroke="#000" stroke-width="1.2"/>
<text transform="translate(277.94,436.92) scale(0.81,1)" font-size="17.6" fill="#000">d</text>
<text transform="translate(285.76,436.92) scale(0.89,1)" font-size="17.6" fill="#000">1</text>
<ellipse cx="308.8" cy="431.1" rx="3.5" ry="3.75" fill="none" stroke="#000" stroke-width="1.45"/>
<line x1="311.2" y1="425.3" x2="306.4" y2="437.3" stroke="#000" stroke-width="1.2"/>
<text transform="translate(317.84,436.92) scale(0.81,1)" font-size="17.6" fill="#000">d</text>
<text transform="translate(326.04,436.92) scale(0.78,1)" font-size="17.6" fill="#000">2</text>
<ellipse cx="351.5" cy="431.1" rx="3.5" ry="3.75" fill="none" stroke="#000" stroke-width="1.45"/>
<line x1="353.9" y1="425.3" x2="349.1" y2="437.3" stroke="#000" stroke-width="1.2"/>
<text transform="translate(360.54,436.92) scale(0.81,1)" font-size="17.6" fill="#000">d</text>
<text transform="translate(368.53,436.92) scale(0.76,1)" font-size="17.6" fill="#000">3</text>
<ellipse cx="392.75" cy="431.1" rx="3.5" ry="3.75" fill="none" stroke="#000" stroke-width="1.45"/>
<line x1="395.15" y1="425.3" x2="390.35" y2="437.3" stroke="#000" stroke-width="1.2"/>
<text transform="translate(401.79,436.92) scale(0.81,1)" font-size="17.6" fill="#000">d</text>
<text transform="translate(409.71,436.92) scale(0.78,1)" font-size="17.6" fill="#000">5</text>
<ellipse cx="432.95" cy="431.1" rx="3.5" ry="3.75" fill="none" stroke="#000" stroke-width="1.45"/>
<line x1="435.35" y1="425.3" x2="430.55" y2="437.3" stroke="#000" stroke-width="1.2"/>
<text transform="translate(441.99,436.92) scale(0.81,1)" font-size="17.6" fill="#000">d</text>
<text transform="translate(449.99,436.92) scale(0.73,1)" font-size="17.6" fill="#000">6</text>
<ellipse cx="473.55" cy="431.1" rx="3.5" ry="3.75" fill="none" stroke="#000" stroke-width="1.45"/>
<line x1="475.95" y1="425.3" x2="471.15" y2="437.3" stroke="#000" stroke-width="1.2"/>
<text transform="translate(482.59,436.92) scale(0.81,1)" font-size="17.6" fill="#000">d</text>
<text transform="translate(490.38,436.92) scale(0.78,1)" font-size="17.6" fill="#000">7</text>
<text transform="translate(519.25,436.92) scale(0.83,1)" font-size="17.6" fill="#000">h</text>
<text transform="translate(547.35,436.92) scale(0.83,1)" font-size="17.6" fill="#000">h</text>
<text transform="translate(555.26,436.92) scale(0.89,1)" font-size="17.6" fill="#000">1</text>
<text transform="translate(582.81,436.92) scale(1.1,1)" font-size="17.6" fill="#000">f</text>
<text transform="translate(627.3,436.92) scale(0.82,1)" font-size="17.6" fill="#000">n</text>
<text transform="translate(636.65,436.2) scale(0.82,1)" font-size="20" fill="#000">–</text>
<ellipse cx="646.85" cy="431.1" rx="3.5" ry="3.75" fill="none" stroke="#000" stroke-width="1.45"/>
<line x1="649.25" y1="425.3" x2="644.45" y2="437.3" stroke="#000" stroke-width="1.2"/>
<text transform="translate(655.88,436.92) scale(0.83,1)" font-size="17.6" fill="#000">d</text>
<text transform="translate(664.4,436.92) scale(0.79,1)" font-size="17.6" fill="#000">4</text>
<text transform="translate(727.7,436.92) scale(0.53,1)" font-size="17.6" fill="#000">H</text>
<text transform="translate(133.59,466.82) scale(0.73,1)" font-size="17.6" fill="#000">S</text>
<text transform="translate(141.65,466.82) scale(0.52,1)" font-size="17.6" fill="#000">M</text>
<text transform="translate(149.56,466.82) scale(0.68,1)" font-size="17.6" fill="#000">C</text>
<text transform="translate(159.35,467.2) scale(0.76,1)" font-size="20" fill="#000">–</text>
<text transform="translate(168.15,466.82) scale(0.74,1)" font-size="17.6" fill="#000">0</text>
<text transform="translate(176.35,466.82) scale(0.68,1)" font-size="17.6" fill="#000">4</text>
<text transform="translate(226.89,467.32) scale(0.78,1)" font-size="17.6" fill="#000">2</text>
<text transform="translate(235.4,467.32) scale(0.79,1)" font-size="17.6" fill="#000">#</text>
<text transform="translate(268.01,467.32) scale(0.89,1)" font-size="17.6" fill="#000">1</text>
<text transform="translate(276.45,467.32) scale(0.68,1)" font-size="17.6" fill="#000">4</text>
<text transform="translate(284.51,467.32) scale(0.78,1)" font-size="17.6" fill="#000">5</text>
<text transform="translate(312.31,467.32) scale(0.73,1)" font-size="17.6" fill="#000">9</text>
<text transform="translate(320.45,467.32) scale(0.74,1)" font-size="17.6" fill="#000">0</text>
<text transform="translate(350.61,467.32) scale(0.89,1)" font-size="17.6" fill="#000">1</text>
<text transform="translate(359.19,467.32) scale(0.78,1)" font-size="17.6" fill="#000">2</text>
<text transform="translate(367.25,467.32) scale(0.74,1)" font-size="17.6" fill="#000">0</text>
<text transform="translate(396.2,467.32) scale(0.68,1)" font-size="17.6" fill="#000">4</text>
<text transform="translate(404.26,467.32) scale(0.78,1)" font-size="17.6" fill="#000">5</text>
<text transform="translate(436.54,467.32) scale(0.78,1)" font-size="17.6" fill="#000">2</text>
<text transform="translate(444.54,467.32) scale(0.73,1)" font-size="17.6" fill="#000">6</text>
<text transform="translate(476.86,467.32) scale(0.78,1)" font-size="17.6" fill="#000">5</text>
<text transform="translate(485.2,467.32) scale(0.74,1)" font-size="17.6" fill="#000">0</text>
<text transform="translate(518.95,467.32) scale(0.74,1)" font-size="17.6" fill="#000">8</text>
<text transform="translate(550.89,467.32) scale(0.78,1)" font-size="17.6" fill="#000">2</text>
<text transform="translate(582.66,467.32) scale(0.78,1)" font-size="17.6" fill="#000">5</text>
<text transform="translate(628.8,466.82) scale(0.79,1)" font-size="17.6" fill="#000">4</text>
<text transform="translate(636.65,467.2) scale(0.8,1)" font-size="20" fill="#000">–</text>
<text transform="translate(646.11,466.82) scale(0.66,1)" font-size="17.6" fill="#000">M</text>
<text transform="translate(654.17,466.82) scale(0.7,1)" font-size="17.6" fill="#000">1</text>
<text transform="translate(662.8,466.82) scale(0.76,1)" font-size="17.6" fill="#000">0</text>
<text transform="translate(723.23,480.87) scale(0.76,1)" font-size="17.6" fill="#000">3</text>
<text transform="translate(731.36,480.87) scale(0.78,1)" font-size="17.6" fill="#000">5</text>
<text transform="translate(133.59,493.42) scale(0.73,1)" font-size="17.6" fill="#000">S</text>
<text transform="translate(141.65,493.42) scale(0.52,1)" font-size="17.6" fill="#000">M</text>
<text transform="translate(149.56,493.42) scale(0.68,1)" font-size="17.6" fill="#000">C</text>
<text transform="translate(159.35,494.2) scale(0.76,1)" font-size="20" fill="#000">–</text>
<text transform="translate(168.15,493.42) scale(0.74,1)" font-size="17.6" fill="#000">0</text>
<text transform="translate(176.28,493.42) scale(0.76,1)" font-size="17.6" fill="#000">3</text>
<text transform="translate(226.68,493.92) scale(0.76,1)" font-size="17.6" fill="#000">3</text>
<text transform="translate(235.4,493.92) scale(0.79,1)" font-size="17.6" fill="#000">#</text>
<text transform="translate(268.01,493.92) scale(0.89,1)" font-size="17.6" fill="#000">1</text>
<text transform="translate(276.45,493.92) scale(0.74,1)" font-size="17.6" fill="#000">8</text>
<text transform="translate(284.51,493.92) scale(0.78,1)" font-size="17.6" fill="#000">5</text>
<text transform="translate(307.91,493.92) scale(0.89,1)" font-size="17.6" fill="#000">1</text>
<text transform="translate(316.49,493.92) scale(0.78,1)" font-size="17.6" fill="#000">2</text>
<text transform="translate(324.41,493.92) scale(0.78,1)" font-size="17.6" fill="#000">5</text>
<text transform="translate(350.61,493.92) scale(0.89,1)" font-size="17.6" fill="#000">1</text>
<text transform="translate(358.99,493.92) scale(0.73,1)" font-size="17.6" fill="#000">6</text>
<text transform="translate(367.25,493.92) scale(0.74,1)" font-size="17.6" fill="#000">0</text>
<text transform="translate(396.06,493.92) scale(0.78,1)" font-size="17.6" fill="#000">5</text>
<text transform="translate(404.4,493.92) scale(0.74,1)" font-size="17.6" fill="#000">8</text>
<text transform="translate(436.4,493.92) scale(0.68,1)" font-size="17.6" fill="#000">4</text>
<text transform="translate(444.6,493.92) scale(0.74,1)" font-size="17.6" fill="#000">0</text>
<text transform="translate(476.94,493.92) scale(0.73,1)" font-size="17.6" fill="#000">6</text>
<text transform="translate(485.06,493.92) scale(0.78,1)" font-size="17.6" fill="#000">5</text>
<text transform="translate(514.61,493.92) scale(0.89,1)" font-size="17.6" fill="#000">1</text>
<text transform="translate(523.05,493.92) scale(0.74,1)" font-size="17.6" fill="#000">0</text>
<text transform="translate(550.89,493.92) scale(0.78,1)" font-size="17.6" fill="#000">2</text>
<text transform="translate(582.74,546.97) scale(0.73,1)" font-size="17.6" fill="#000">6</text>
<text transform="translate(628.8,493.42) scale(0.79,1)" font-size="17.6" fill="#000">4</text>
<text transform="translate(636.65,494.2) scale(0.8,1)" font-size="20" fill="#000">–</text>
<text transform="translate(646.11,493.42) scale(0.66,1)" font-size="17.6" fill="#000">M</text>
<text transform="translate(654.17,493.42) scale(0.7,1)" font-size="17.6" fill="#000">1</text>
<text transform="translate(662.94,493.42) scale(0.8,1)" font-size="17.6" fill="#000">2</text>
<text transform="translate(133.59,520.37) scale(0.73,1)" font-size="17.6" fill="#000">S</text>
<text transform="translate(141.65,520.37) scale(0.52,1)" font-size="17.6" fill="#000">M</text>
<text transform="translate(149.56,520.37) scale(0.68,1)" font-size="17.6" fill="#000">C</text>
<text transform="translate(159.35,520.2) scale(0.76,1)" font-size="20" fill="#000">–</text>
<text transform="translate(168.15,520.37) scale(0.74,1)" font-size="17.6" fill="#000">0</text>
<text transform="translate(176.35,520.37) scale(0.74,1)" font-size="17.6" fill="#000">0</text>
<text transform="translate(226.75,520.87) scale(0.68,1)" font-size="17.6" fill="#000">4</text>
<text transform="translate(235.4,520.87) scale(0.79,1)" font-size="17.6" fill="#000">#</text>
<text transform="translate(268.39,520.87) scale(0.78,1)" font-size="17.6" fill="#000">2</text>
<text transform="translate(276.59,520.87) scale(0.78,1)" font-size="17.6" fill="#000">2</text>
<text transform="translate(284.51,520.87) scale(0.78,1)" font-size="17.6" fill="#000">5</text>
<text transform="translate(307.91,520.87) scale(0.89,1)" font-size="17.6" fill="#000">1</text>
<text transform="translate(316.21,520.87) scale(0.78,1)" font-size="17.6" fill="#000">5</text>
<text transform="translate(324.55,520.87) scale(0.74,1)" font-size="17.6" fill="#000">0</text>
<text transform="translate(350.61,520.87) scale(0.89,1)" font-size="17.6" fill="#000">1</text>
<text transform="translate(359.11,520.87) scale(0.73,1)" font-size="17.6" fill="#000">9</text>
<text transform="translate(367.11,520.87) scale(0.78,1)" font-size="17.6" fill="#000">5</text>
<text transform="translate(395.93,520.87) scale(0.78,1)" font-size="17.6" fill="#000">7</text>
<text transform="translate(404.54,520.87) scale(0.78,1)" font-size="17.6" fill="#000">2</text>
<text transform="translate(436.4,520.87) scale(0.68,1)" font-size="17.6" fill="#000">4</text>
<text transform="translate(444.54,520.87) scale(0.73,1)" font-size="17.6" fill="#000">6</text>
<text transform="translate(477,520.87) scale(0.74,1)" font-size="17.6" fill="#000">8</text>
<text transform="translate(485.2,520.87) scale(0.74,1)" font-size="17.6" fill="#000">0</text>
<text transform="translate(514.61,520.87) scale(0.89,1)" font-size="17.6" fill="#000">1</text>
<text transform="translate(523.19,520.87) scale(0.78,1)" font-size="17.6" fill="#000">2</text>
<text transform="translate(550.89,520.87) scale(0.78,1)" font-size="17.6" fill="#000">2</text>
<text transform="translate(628.8,520.37) scale(0.79,1)" font-size="17.6" fill="#000">4</text>
<text transform="translate(636.65,520.2) scale(0.8,1)" font-size="20" fill="#000">–</text>
<text transform="translate(646.11,520.37) scale(0.66,1)" font-size="17.6" fill="#000">M</text>
<text transform="translate(654.17,520.37) scale(0.7,1)" font-size="17.6" fill="#000">1</text>
<text transform="translate(662.73,520.37) scale(0.74,1)" font-size="17.6" fill="#000">6</text>
<text transform="translate(723.3,520.87) scale(0.68,1)" font-size="17.6" fill="#000">4</text>
<text transform="translate(731.5,520.87) scale(0.74,1)" font-size="17.6" fill="#000">0</text>
<text transform="translate(137.69,547.32) scale(0.73,1)" font-size="17.6" fill="#000">S</text>
<text transform="translate(145.75,547.32) scale(0.52,1)" font-size="17.6" fill="#000">M</text>
<text transform="translate(153.66,547.32) scale(0.68,1)" font-size="17.6" fill="#000">C</text>
<text transform="translate(163.45,547.2) scale(0.76,1)" font-size="20" fill="#000">–</text>
<text transform="translate(172.25,547.32) scale(0.74,1)" font-size="17.6" fill="#000">0</text>
<text transform="translate(226.61,547.82) scale(0.78,1)" font-size="17.6" fill="#000">5</text>
<text transform="translate(235.4,547.82) scale(0.79,1)" font-size="17.6" fill="#000">#</text>
<text transform="translate(268.39,547.82) scale(0.78,1)" font-size="17.6" fill="#000">2</text>
<text transform="translate(276.18,547.82) scale(0.78,1)" font-size="17.6" fill="#000">7</text>
<text transform="translate(284.65,547.82) scale(0.74,1)" font-size="17.6" fill="#000">0</text>
<text transform="translate(307.91,547.82) scale(0.89,1)" font-size="17.6" fill="#000">1</text>
<text transform="translate(316.35,547.82) scale(0.74,1)" font-size="17.6" fill="#000">8</text>
<text transform="translate(324.55,547.82) scale(0.74,1)" font-size="17.6" fill="#000">0</text>
<text transform="translate(350.99,547.82) scale(0.78,1)" font-size="17.6" fill="#000">2</text>
<text transform="translate(358.98,547.82) scale(0.76,1)" font-size="17.6" fill="#000">3</text>
<text transform="translate(367.11,547.82) scale(0.78,1)" font-size="17.6" fill="#000">5</text>
<text transform="translate(396.2,547.82) scale(0.74,1)" font-size="17.6" fill="#000">8</text>
<text transform="translate(404.54,547.82) scale(0.78,1)" font-size="17.6" fill="#000">2</text>
<text transform="translate(436.26,547.82) scale(0.78,1)" font-size="17.6" fill="#000">5</text>
<text transform="translate(444.6,547.82) scale(0.74,1)" font-size="17.6" fill="#000">8</text>
<text transform="translate(477.06,547.82) scale(0.73,1)" font-size="17.6" fill="#000">9</text>
<text transform="translate(485.34,547.82) scale(0.78,1)" font-size="17.6" fill="#000">2</text>
<text transform="translate(514.61,547.82) scale(0.89,1)" font-size="17.6" fill="#000">1</text>
<text transform="translate(523.05,547.82) scale(0.68,1)" font-size="17.6" fill="#000">4</text>
<text transform="translate(550.89,547.82) scale(0.78,1)" font-size="17.6" fill="#000">2</text>
<text transform="translate(628.8,547.32) scale(0.79,1)" font-size="17.6" fill="#000">4</text>
<text transform="translate(636.65,547.2) scale(0.8,1)" font-size="20" fill="#000">–</text>
<text transform="translate(646.11,547.32) scale(0.66,1)" font-size="17.6" fill="#000">M</text>
<text transform="translate(654.49,547.32) scale(0.78,1)" font-size="17.6" fill="#000">2</text>
<text transform="translate(662.8,547.32) scale(0.76,1)" font-size="17.6" fill="#000">0</text>
<text transform="translate(723.3,547.82) scale(0.68,1)" font-size="17.6" fill="#000">4</text>
<text transform="translate(731.36,547.82) scale(0.78,1)" font-size="17.6" fill="#000">5</text>
<text transform="translate(137.69,573.87) scale(0.73,1)" font-size="17.6" fill="#000">S</text>
<text transform="translate(145.75,573.87) scale(0.52,1)" font-size="17.6" fill="#000">M</text>
<text transform="translate(153.66,573.87) scale(0.68,1)" font-size="17.6" fill="#000">C</text>
<text transform="translate(163.45,574.2) scale(0.76,1)" font-size="20" fill="#000">–</text>
<text transform="translate(172.01,573.87) scale(0.89,1)" font-size="17.6" fill="#000">1</text>
<text transform="translate(226.47,574.37) scale(0.78,1)" font-size="17.6" fill="#000">7</text>
<text transform="translate(235.4,574.37) scale(0.79,1)" font-size="17.6" fill="#000">#</text>
<text transform="translate(268.18,574.37) scale(0.76,1)" font-size="17.6" fill="#000">3</text>
<text transform="translate(276.38,574.37) scale(0.76,1)" font-size="17.6" fill="#000">3</text>
<text transform="translate(284.65,574.37) scale(0.74,1)" font-size="17.6" fill="#000">0</text>
<text transform="translate(308.29,587.47) scale(0.78,1)" font-size="17.6" fill="#000">2</text>
<text transform="translate(316.49,587.47) scale(0.78,1)" font-size="17.6" fill="#000">2</text>
<text transform="translate(324.55,587.47) scale(0.74,1)" font-size="17.6" fill="#000">0</text>
<text transform="translate(350.99,587.47) scale(0.78,1)" font-size="17.6" fill="#000">2</text>
<text transform="translate(359.05,587.47) scale(0.74,1)" font-size="17.6" fill="#000">8</text>
<text transform="translate(367.11,587.47) scale(0.78,1)" font-size="17.6" fill="#000">5</text>
<text transform="translate(391.86,587.47) scale(0.89,1)" font-size="17.6" fill="#000">1</text>
<text transform="translate(400.3,587.47) scale(0.74,1)" font-size="17.6" fill="#000">0</text>
<text transform="translate(408.5,587.47) scale(0.74,1)" font-size="17.6" fill="#000">0</text>
<text transform="translate(436.34,587.47) scale(0.73,1)" font-size="17.6" fill="#000">6</text>
<text transform="translate(444.46,587.47) scale(0.78,1)" font-size="17.6" fill="#000">5</text>
<text transform="translate(472.66,587.47) scale(0.89,1)" font-size="17.6" fill="#000">1</text>
<text transform="translate(480.86,587.47) scale(0.89,1)" font-size="17.6" fill="#000">1</text>
<text transform="translate(489.3,587.47) scale(0.74,1)" font-size="17.6" fill="#000">0</text>
<text transform="translate(514.61,587.47) scale(0.89,1)" font-size="17.6" fill="#000">1</text>
<text transform="translate(522.99,587.47) scale(0.73,1)" font-size="17.6" fill="#000">6</text>
<text transform="translate(550.68,587.47) scale(0.76,1)" font-size="17.6" fill="#000">3</text>
<text transform="translate(628.8,586.97) scale(0.79,1)" font-size="17.6" fill="#000">4</text>
<text transform="translate(636.65,587.2) scale(0.8,1)" font-size="20" fill="#000">–</text>
<text transform="translate(646.11,586.97) scale(0.66,1)" font-size="17.6" fill="#000">M</text>
<text transform="translate(654.49,586.97) scale(0.78,1)" font-size="17.6" fill="#000">2</text>
<text transform="translate(662.8,586.97) scale(0.69,1)" font-size="17.6" fill="#000">4</text>
<text transform="translate(723.16,587.47) scale(0.78,1)" font-size="17.6" fill="#000">5</text>
<text transform="translate(731.5,587.47) scale(0.74,1)" font-size="17.6" fill="#000">0</text>
<text transform="translate(137.69,599.97) scale(0.73,1)" font-size="17.6" fill="#000">S</text>
<text transform="translate(145.75,599.97) scale(0.52,1)" font-size="17.6" fill="#000">M</text>
<text transform="translate(153.66,599.97) scale(0.68,1)" font-size="17.6" fill="#000">C</text>
<text transform="translate(163.45,600.2) scale(0.76,1)" font-size="20" fill="#000">–</text>
<text transform="translate(172.39,599.97) scale(0.78,1)" font-size="17.6" fill="#000">2</text>
<text transform="translate(226.47,600.47) scale(0.78,1)" font-size="17.6" fill="#000">7</text>
<text transform="translate(235.4,600.47) scale(0.79,1)" font-size="17.6" fill="#000">#</text>
<text transform="translate(268.18,600.47) scale(0.76,1)" font-size="17.6" fill="#000">3</text>
<text transform="translate(276.31,600.47) scale(0.78,1)" font-size="17.6" fill="#000">5</text>
<text transform="translate(284.65,600.47) scale(0.74,1)" font-size="17.6" fill="#000">0</text>
<text transform="translate(137.69,626.17) scale(0.73,1)" font-size="17.6" fill="#000">S</text>
<text transform="translate(145.75,626.17) scale(0.52,1)" font-size="17.6" fill="#000">M</text>
<text transform="translate(153.66,626.17) scale(0.68,1)" font-size="17.6" fill="#000">C</text>
<text transform="translate(163.45,626.2) scale(0.76,1)" font-size="20" fill="#000">–</text>
<text transform="translate(172.18,626.17) scale(0.76,1)" font-size="17.6" fill="#000">3</text>
<text transform="translate(226.75,626.67) scale(0.74,1)" font-size="17.6" fill="#000">8</text>
<text transform="translate(235.4,626.67) scale(0.79,1)" font-size="17.6" fill="#000">#</text>
<text transform="translate(268.18,626.67) scale(0.76,1)" font-size="17.6" fill="#000">3</text>
<text transform="translate(276.45,626.67) scale(0.74,1)" font-size="17.6" fill="#000">8</text>
<text transform="translate(284.65,626.67) scale(0.74,1)" font-size="17.6" fill="#000">0</text>
<text transform="translate(308.29,626.67) scale(0.78,1)" font-size="17.6" fill="#000">2</text>
<text transform="translate(316.35,626.67) scale(0.74,1)" font-size="17.6" fill="#000">8</text>
<text transform="translate(324.55,626.67) scale(0.74,1)" font-size="17.6" fill="#000">0</text>
<text transform="translate(350.78,626.67) scale(0.76,1)" font-size="17.6" fill="#000">3</text>
<text transform="translate(359.05,626.67) scale(0.68,1)" font-size="17.6" fill="#000">4</text>
<text transform="translate(367.25,626.67) scale(0.74,1)" font-size="17.6" fill="#000">0</text>
<text transform="translate(391.86,626.67) scale(0.89,1)" font-size="17.6" fill="#000">1</text>
<text transform="translate(400.44,626.67) scale(0.78,1)" font-size="17.6" fill="#000">2</text>
<text transform="translate(408.5,626.67) scale(0.74,1)" font-size="17.6" fill="#000">0</text>
<text transform="translate(436.4,626.67) scale(0.74,1)" font-size="17.6" fill="#000">8</text>
<text transform="translate(444.6,626.67) scale(0.74,1)" font-size="17.6" fill="#000">0</text>
<text transform="translate(472.66,626.67) scale(0.89,1)" font-size="17.6" fill="#000">1</text>
<text transform="translate(481.1,626.67) scale(0.68,1)" font-size="17.6" fill="#000">4</text>
<text transform="translate(489.3,626.67) scale(0.74,1)" font-size="17.6" fill="#000">0</text>
<text transform="translate(514.99,626.67) scale(0.78,1)" font-size="17.6" fill="#000">2</text>
<text transform="translate(523.05,626.67) scale(0.74,1)" font-size="17.6" fill="#000">0</text>
<text transform="translate(550.68,626.67) scale(0.76,1)" font-size="17.6" fill="#000">3</text>
<text transform="translate(582.8,626.67) scale(0.74,1)" font-size="17.6" fill="#000">8</text>
<text transform="translate(627.55,626.17) scale(0.8,1)" font-size="17.6" fill="#000">8</text>
<text transform="translate(635.85,626.2) scale(0.76,1)" font-size="20" fill="#000">–</text>
<ellipse cx="645.65" cy="620.65" rx="3.45" ry="3.7" fill="none" stroke="#000" stroke-width="1.5"/>
<line x1="647.95" y1="614.95" x2="643.35" y2="626.35" stroke="#000" stroke-width="1.15"/>
<text transform="translate(655.39,626.17) scale(0.78,1)" font-size="17.6" fill="#000">2</text>
<text transform="translate(663.69,626.17) scale(0.78,1)" font-size="17.6" fill="#000">2</text>
<text transform="translate(718.96,626.67) scale(0.89,1)" font-size="17.6" fill="#000">1</text>
<text transform="translate(727.46,626.67) scale(0.73,1)" font-size="17.6" fill="#000">9</text>
<text transform="translate(735.6,626.67) scale(0.74,1)" font-size="17.6" fill="#000">0</text>
</svg>
</body></html>
